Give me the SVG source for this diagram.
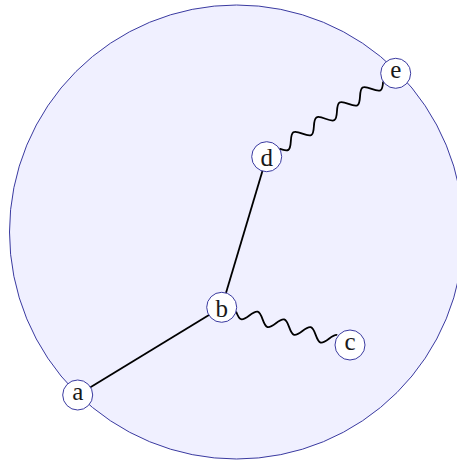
<svg xmlns="http://www.w3.org/2000/svg" width="457" height="461" viewBox="0 0 457 461">
<style>
.node circle{fill:#ffffff;stroke:#3a3aa0;stroke-width:1}
.node text{font-family:"Liberation Serif","DejaVu Serif",serif;font-size:25px;fill:#1a1a1a;text-anchor:middle}
.edge{fill:none;stroke:#000;stroke-width:1.8}
</style>
<rect width="457" height="461" fill="#ffffff"/>
<circle id="region" cx="236.5" cy="232" r="227" fill="#f0f0ff" stroke="#3a3aa0" stroke-width="1"/>
<g id="connectors">
<line class="edge" x1="77.7" y1="395" x2="221.7" y2="307.3"/>
<line class="edge" x1="221.7" y1="307.3" x2="266.7" y2="156.7"/>
<path class="edge" transform="translate(236.09 311.53) rotate(16.37)" d="M0,0 c2.254,3.074 4.411,6 6.913,6 c2.502,0 4.659,-2.926 6.913,-6 c2.254,-3.074 4.411,-6 6.913,-6 c2.502,0 4.659,2.926 6.913,6 c2.254,3.074 4.411,6 6.913,6 c2.502,0 4.659,-2.926 6.913,-6 c2.254,-3.074 4.411,-6 6.913,-6 c2.502,0 4.659,2.926 6.913,6 c2.254,3.074 4.411,6 6.913,6 c2.502,0 4.659,-2.926 6.913,-6 c2.254,-3.074 4.411,-6 6.913,-6 c2.502,0 4.659,2.926 6.913,6 c2.254,3.074 4.411,6 6.913,6 c2.502,0 4.659,-2.926 6.913,-6 c2.254,-3.074 4.411,-6 6.913,-6"/>
<path class="edge" transform="translate(279.30 148.56) rotate(-32.88)" d="M0,0 c2.239,3.074 4.382,6 6.867,6 c2.485,0 4.628,-2.926 6.867,-6 c2.239,-3.074 4.382,-6 6.867,-6 c2.485,0 4.628,2.926 6.867,6 c2.239,3.074 4.382,6 6.867,6 c2.485,0 4.628,-2.926 6.867,-6 c2.239,-3.074 4.382,-6 6.867,-6 c2.485,0 4.628,2.926 6.867,6 c2.239,3.074 4.382,6 6.867,6 c2.485,0 4.628,-2.926 6.867,-6 c2.239,-3.074 4.382,-6 6.867,-6 c2.485,0 4.628,2.926 6.867,6 c2.239,3.074 4.382,6 6.867,6 c2.485,0 4.628,-2.926 6.867,-6 c2.239,-3.074 4.382,-6 6.867,-6 c2.485,0 4.628,2.926 6.867,6 c2.239,3.074 4.382,6 6.867,6 c2.485,0 4.628,-2.926 6.867,-6"/>
</g>
<g id="node-a" class="node"><circle cx="77.7" cy="395" r="15"/><text x="77.7" y="399.8">a</text></g>
<g id="node-b" class="node"><circle cx="221.7" cy="307.3" r="15"/><text x="221.7" y="316.6">b</text></g>
<g id="node-c" class="node"><circle cx="350" cy="345" r="15"/><text x="350" y="349.8">c</text></g>
<g id="node-d" class="node"><circle cx="266.7" cy="156.7" r="15"/><text x="266.7" y="166.2">d</text></g>
<g id="node-e" class="node"><circle cx="395.7" cy="73.3" r="15"/><text x="395.7" y="78.1">e</text></g>
</svg>
